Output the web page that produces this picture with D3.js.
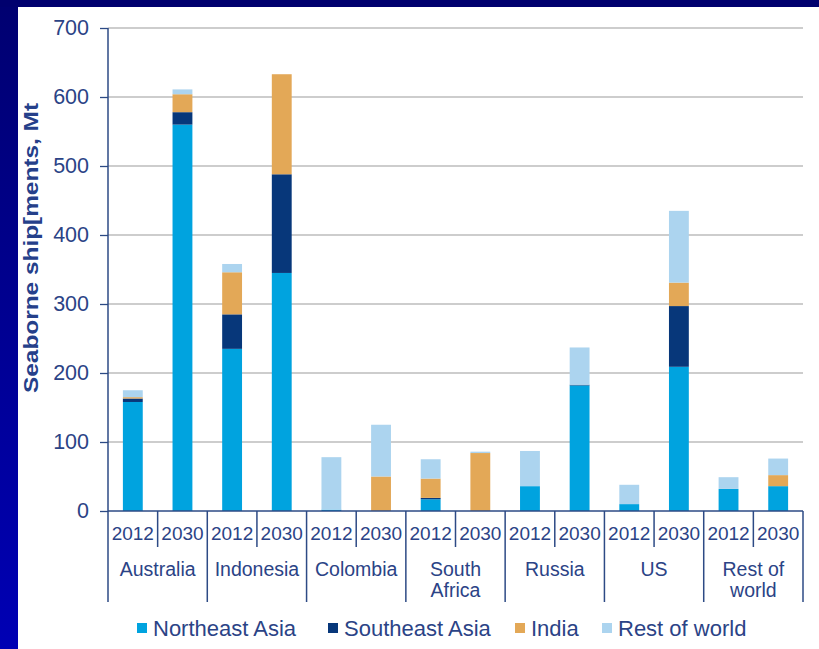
<!DOCTYPE html>
<html>
<head>
<meta charset="utf-8">
<script src="https://cdn.jsdelivr.net/npm/d3@7"></script>
<style>
  html, body { margin: 0; padding: 0; background: #fff; }
  svg { display: block; }
  text { font-family: "Liberation Sans", Arial, sans-serif; }
</style>
</head>
<body>
<svg id="chart" width="819" height="649"></svg>
<script>
// Seaborne coal shipments by exporter and destination, 2012 vs 2030 (Mt)
const countries = ["Australia", "Indonesia", "Colombia", "South Africa", "Russia", "US", "Rest of world"];
const countryLines = [["Australia"], ["Indonesia"], ["Colombia"], ["South", "Africa"], ["Russia"], ["US"], ["Rest of", "world"]];
const years = ["2012", "2030"];
const seriesNames = ["Northeast Asia", "Southeast Asia", "India", "Rest of world"];
const seriesColors = ["#00a3df", "#07377a", "#e3a857", "#acd4ef"];

// one value per bar, in order: country × year
const northeastAsia = [158, 560, 235, 345, 2, 0, 17, 0, 36, 182, 10, 209, 32, 36];
const southeastAsia = [5, 18, 50, 143, 0, 0, 2, 0, 0, 1, 0, 88, 0, 0];
const india = [2, 26, 61, 145, 0, 50, 28, 84, 0, 0, 0, 34, 0, 16];
const restOfWorld = [10, 7, 12, 0, 76, 75, 28, 2, 51, 54, 28, 104, 17, 24];
const yTicks = [0, 100, 200, 300, 400, 500, 600, 700];

const svg = d3.select("#chart");
const W = 819, H = 649;

// slide frame: navy top band and a blue gradient strip on the left
const defs = svg.append("defs");
const grad = defs.append("linearGradient").attr("id", "sideGrad")
  .attr("x1", 0).attr("y1", 0).attr("x2", 0).attr("y2", 1);
grad.append("stop").attr("offset", "0%").attr("stop-color", "#000070");
grad.append("stop").attr("offset", "100%").attr("stop-color", "#0000b4");
svg.append("rect").attr("x", 0).attr("y", 0).attr("width", W).attr("height", H).attr("fill", "#ffffff");
svg.append("rect").attr("x", 0).attr("y", 0).attr("width", 18).attr("height", H).attr("fill", "url(#sideGrad)");
svg.append("rect").attr("x", 0).attr("y", 0).attr("width", W).attr("height", 7).attr("fill", "#00006e");

const plotLeft = 108, plotRight = 803, plotTop = 28, plotBottom = 511;
const textColor = "#2b4386";
const axisColor = "#2d4a85";

const bars = [];
countries.forEach((c, ci) => years.forEach((yr, yi) => {
  const i = ci * 2 + yi;
  bars.push({ key: c + " " + yr, year: yr,
    "Northeast Asia": northeastAsia[i], "Southeast Asia": southeastAsia[i],
    "India": india[i], "Rest of world": restOfWorld[i] });
}));

const x = d3.scaleBand().domain(bars.map(d => d.key)).range([plotLeft, plotRight])
  .paddingInner(0.6).paddingOuter(0.3);
const y = d3.scaleLinear().domain([0, 700]).range([plotBottom, plotTop]);
const step = x.step();

// gridlines
svg.append("g").selectAll("line").data(yTicks.filter(t => t > 0)).join("line")
  .attr("x1", plotLeft).attr("x2", plotRight)
  .attr("y1", d => y(d)).attr("y2", d => y(d))
  .attr("stroke", "#bdbdbd").attr("stroke-width", 1.5);

// stacked bars
const stack = d3.stack().keys(seriesNames)(bars);
svg.append("g").selectAll("g").data(stack).join("g")
  .attr("fill", (d, i) => seriesColors[i])
  .selectAll("rect").data(d => d).join("rect")
  .attr("x", d => x(d.data.key))
  .attr("width", x.bandwidth())
  .attr("y", d => y(d[1]))
  .attr("height", d => Math.max(0, y(d[0]) - y(d[1])));

// y axis
const yAxis = d3.axisLeft(y).tickValues(yTicks).tickSize(8).tickPadding(11);
const gy = svg.append("g").attr("transform", `translate(${plotLeft},0)`).call(yAxis);
gy.select(".domain").remove();
gy.selectAll(".tick line").attr("stroke", axisColor).attr("stroke-width", 1.3);
gy.selectAll(".tick text").attr("fill", textColor).attr("font-size", 21.5)
  .attr("font-family", "'Liberation Sans', Arial, sans-serif");
svg.append("line").attr("x1", plotLeft).attr("x2", plotLeft).attr("y1", plotTop).attr("y2", 602)
  .attr("stroke", axisColor).attr("stroke-width", 1.5);

// x axis baseline
svg.append("line").attr("x1", plotLeft).attr("x2", plotRight).attr("y1", plotBottom).attr("y2", plotBottom)
  .attr("stroke", axisColor).attr("stroke-width", 1.5);

// separators: short between years, long between countries
const seps = d3.range(1, bars.length + 1).map(i => ({ x: plotLeft + i * step, long: i % 2 === 0 }));
svg.append("g").selectAll("line").data(seps).join("line")
  .attr("x1", d => d.x).attr("x2", d => d.x)
  .attr("y1", plotBottom).attr("y2", d => d.long ? 602 : 547)
  .attr("stroke", axisColor).attr("stroke-width", 1.5);

// year labels
svg.append("g").selectAll("text").data(bars).join("text")
  .attr("x", d => x(d.key) + x.bandwidth() / 2)
  .attr("y", 540)
  .attr("text-anchor", "middle").attr("font-size", 19).attr("fill", textColor)
  .text(d => d.year);

// country labels
const cg = svg.append("g").selectAll("text").data(countries).join("text")
  .attr("x", (d, i) => plotLeft + (i * 2 + 1) * step)
  .attr("y", 576)
  .attr("text-anchor", "middle").attr("font-size", 19.5).attr("fill", textColor);
cg.selectAll("tspan").data((d, i) => countryLines[i]).join("tspan")
  .attr("x", function () { return this.parentNode.getAttribute("x"); })
  .attr("dy", (d, i) => i === 0 ? 0 : 21)
  .text(d => d);

// y axis title
svg.append("text")
  .attr("transform", "translate(38,248) rotate(-90)")
  .attr("text-anchor", "middle").attr("font-size", 21).attr("font-weight", "bold")
  .attr("textLength", 290).attr("lengthAdjust", "spacingAndGlyphs")
  .attr("fill", "#25408a")
  .text("Seaborne ship[ments, Mt");

// legend
const legendX = [137, 328, 515, 602];
const lg = svg.append("g").selectAll("g").data(seriesNames).join("g")
  .attr("transform", (d, i) => `translate(${legendX[i]},628)`);
lg.append("rect").attr("x", 0).attr("y", -5).attr("width", 10).attr("height", 10)
  .attr("fill", (d, i) => seriesColors[i]);
lg.append("text").attr("x", 16).attr("y", 8).attr("font-size", 22).attr("fill", textColor)
  .text(d => d);
</script>
</body>
</html>
